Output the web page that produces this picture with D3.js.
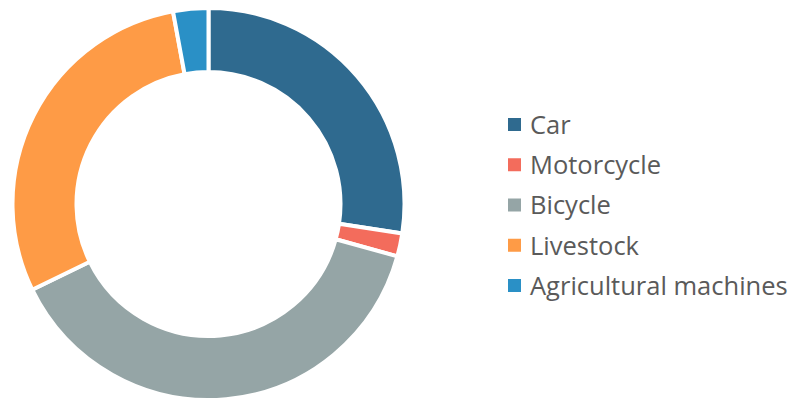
<!DOCTYPE html>
<html>
<head>
<meta charset="utf-8">
<script src="https://cdn.jsdelivr.net/npm/d3@7"></script>
<style>
  html, body { margin: 0; padding: 0; background: #fff; }
  svg { display: block; }
</style>
</head>
<body>
<svg id="chart" width="794" height="400"></svg>
<script>
// Share of households by means of transport (percent)
const categories = ["Car", "Motorcycle", "Bicycle", "Livestock", "Agricultural machines"];
const values = [27.4, 1.9, 38.5, 29.3, 2.9];
const colors = ["#2f6a8f", "#f36c5c", "#95a5a6", "#fe9b46", "#2a90c6"];

const svg = d3.select("#chart");
const cx = 208.5, cy = 204, outerR = 196, innerR = 132;

const pie = d3.pie().sort(null).value(d => d.value);
const arc = d3.arc().innerRadius(innerR).outerRadius(outerR);
const data = categories.map((c, i) => ({ name: c, value: values[i], color: colors[i] }));

svg.append("g")
  .attr("transform", `translate(${cx},${cy})`)
  .selectAll("path")
  .data(pie(data))
  .join("path")
  .attr("d", arc)
  .attr("fill", d => d.data.color)
  .attr("stroke", "#fff")
  .attr("stroke-width", 4)
  .attr("stroke-linejoin", "miter");

// Legend
const legendY = d3.scalePoint().domain(categories).range([124, 285]);
const legend = svg.append("g").selectAll("g")
  .data(data)
  .join("g")
  .attr("transform", d => `translate(508,${legendY(d.name)})`);

legend.append("rect")
  .attr("x", 0).attr("y", -6)
  .attr("width", 13).attr("height", 13)
  .attr("fill", d => d.color);

legend.append("text")
  .attr("x", 22).attr("y", 1)
  .attr("dy", "0.35em")
  .attr("font-family", "'Open Sans', sans-serif")
  .attr("font-size", 25.5)
  .attr("fill", "#5a5a5a")
  .text(d => d.name);
</script>
</body>
</html>
